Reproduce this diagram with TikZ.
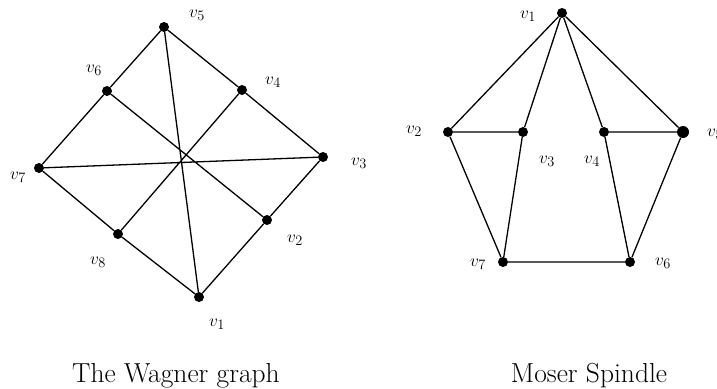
\documentclass[tikz,border=0pt]{standalone}
\tikzset{
  vtx/.style={circle,fill=black,inner sep=0pt,minimum size=10pt},
  lbl/.style={inner sep=0pt,font=\fontsize{19}{22}\selectfont},
  gedge/.style={line width=1.3pt},
  captxt/.style={inner sep=0pt,anchor=base,font=\fontsize{27.5}{32}\selectfont}
}
\begin{document}
\begin{tikzpicture}[x=1pt,y=-1pt]
\useasboundingbox (0,0) rectangle (717,388);
% Wagner graph
\node[vtx] (w1) at (199,297) {};
\node[vtx] (w2) at (267,220) {};
\node[vtx] (w3) at (323,157) {};
\node[vtx] (w4) at (242,90) {};
\node[vtx] (w5) at (164,27) {};
\node[vtx] (w6) at (107,91) {};
\node[vtx] (w7) at (39,168) {};
\node[vtx] (w8) at (118,234) {};
\draw[gedge] (w1)--(w2)--(w3)--(w4)--(w5)--(w6)--(w7)--(w8)--(w1);
\draw[gedge] (w5)--(w1) (w6)--(w2) (w7)--(w3) (w4)--(w8);
\node[lbl] (lw1) at (217,324) {$v_1$};
\node[lbl] (lw2) at (295,240) {$v_2$};
\node[lbl] (lw3) at (359,163) {$v_3$};
\node[lbl] (lw4) at (273,82) {$v_4$};
\node[lbl] (lw5) at (197,15) {$v_5$};
\node[lbl] (lw6) at (94,70) {$v_6$};
\node[lbl] (lw7) at (18,177) {$v_7$};
\node[lbl] (lw8) at (98,262) {$v_8$};
% Moser spindle
\node[vtx] (m1) at (562,13) {};
\node[vtx] (m2) at (448,132) {};
\node[vtx] (m3) at (523,132) {};
\node[vtx] (m4) at (604,132) {};
\node[vtx,minimum width=12pt] (m5) at (683,132) {};
\node[vtx] (m6) at (630,262) {};
\node[vtx] (m7) at (503,262) {};
\draw[gedge] (m1)--(m2) (m1)--(m3) (m1)--(m4) (m1)--(m5);
\draw[gedge] (m2)--(m3) (m4)--(m5) (m2)--(m7) (m3)--(m7) (m4)--(m6) (m5)--(m6) (m7)--(m6);
\node[lbl] (lm1) at (528,16) {$v_1$};
\node[lbl] (lm2) at (414,131) {$v_2$};
\node[lbl] (lm3) at (547,161) {$v_3$};
\node[lbl] (lm4) at (592,161) {$v_4$};
\node[lbl] (lm5) at (715,134) {$v_5$};
\node[lbl] (lm6) at (663,263) {$v_6$};
\node[lbl] (lm7) at (478,264) {$v_7$};
% captions
\node[captxt] (c1) at (176,382) {The Wagner graph};
\node[captxt] (c2) at (589,382) {Moser Spindle};
\end{tikzpicture}
\end{document}
